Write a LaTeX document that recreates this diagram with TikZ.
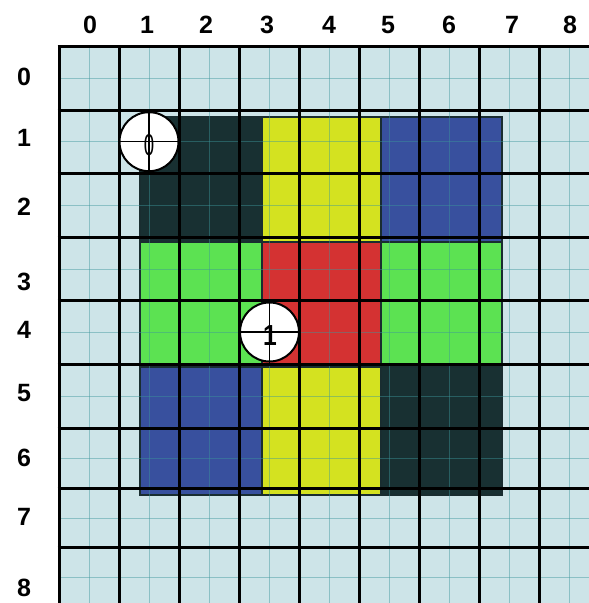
\documentclass[tikz,border=0pt]{standalone}
\usepackage{fontspec}
\setmainfont{Liberation Sans}
\definecolor{bgc}{RGB}{205,228,232}
\definecolor{fline}{RGB}{60,150,155}
\definecolor{darkb}{RGB}{24,48,50}
\definecolor{yel}{RGB}{212,226,32}
\definecolor{blu}{RGB}{56,80,158}
\definecolor{grn}{RGB}{92,226,82}
\definecolor{rd}{RGB}{212,50,50}
\definecolor{bord}{RGB}{25,45,48}
\tikzset{
  blockbox/.style={draw=bord, line width=1.5pt},
  faint/.style={draw=fline, line width=0.9pt, opacity=0.45},
  thick grid/.style={draw=black, line width=3pt},
  axislabel/.style={font=\fontsize{25}{25}\selectfont\bfseries, inner sep=0pt, anchor=center},
  marker/.style={circle, draw=black, fill=white, line width=2pt, minimum size=59pt, inner sep=0pt},
  crossline/.style={draw=black, line width=1.5pt}
}
\begin{document}
\begin{tikzpicture}[x=1pt, y=-1pt]
\useasboundingbox (0,0) rectangle (589,603);
% background
\fill[bgc] (59,46.7) rectangle (589,603);
% coloured blocks
\filldraw[blockbox, fill=darkb] (140,117) rectangle (262,242);
\filldraw[blockbox, fill=yel]   (262,117) rectangle (381,242);
\filldraw[blockbox, fill=blu]   (381,117) rectangle (502,242);
\filldraw[blockbox, fill=grn]   (140,242) rectangle (262,367);
\filldraw[blockbox, fill=rd]    (262,242) rectangle (381,367);
\filldraw[blockbox, fill=grn]   (381,242) rectangle (502,367);
\filldraw[blockbox, fill=blu]   (140,367) rectangle (262,495);
\filldraw[blockbox, fill=yel]   (262,367) rectangle (381,495);
\filldraw[blockbox, fill=darkb] (381,367) rectangle (502,495);
% faint grid
\foreach \x in {89,149,209,269,329,389,449,509,569}
  \draw[faint] (\x,46.7) -- (\x,603);
\foreach \y in {78.3,141.7,205.3,269,332.5,396.3,458.3,518,577.3}
  \draw[faint] (59,\y) -- (589,\y);
% thick grid
\foreach \x in {59,119,179,239,299,359,419,479,539}
  \draw[thick grid] (\x,45.2) -- (\x,603);
\foreach \y in {46.7,110,173.3,237.3,300.7,364.3,428.3,488.3,547.7}
  \draw[thick grid] (57.5,\y) -- (589,\y);
% axis labels
\foreach \n/\x in {0/90,1/147,2/206,3/267,4/329,5/388,6/449,7/512,8/570}
  \node[axislabel] (c\n) at (\x,25) {\n};
\foreach \n/\y in {0/76.7,1/138.3,2/206.7,3/281.7,4/330,5/393.3,6/458.3,7/516.7,8/588.3}
  \node[axislabel] (r\n) at (24,\y) {\n};
% markers
\node[marker] (m0) at (149,141.7) {};
\draw[crossline] (m0.north) -- (m0.south);
\draw[crossline] (m0.west) -- (m0.east);
\node[inner sep=0pt, font=\fontsize{30}{30}\selectfont, xscale=0.62] (t0) at (149,145) {0};
\node[marker] (m1) at (269.5,332) {};
\draw[crossline] (m1.north) -- (m1.south);
\draw[crossline] (m1.west) -- (m1.east);
\node[inner sep=0pt, font=\fontsize{29}{29}\selectfont\bfseries, xscale=0.85] (t1) at (270,336) {1};
\end{tikzpicture}
\end{document}
